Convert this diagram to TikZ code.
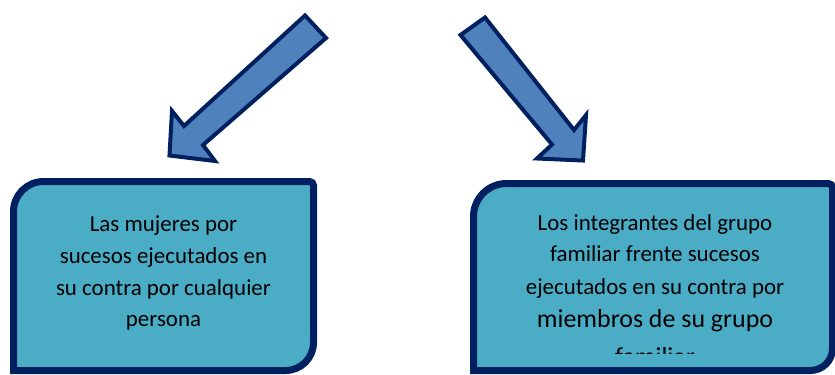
\documentclass[tikz,border=0pt]{standalone}
\usepackage{fontspec}
\setmainfont{Carlito}
\definecolor{navy}{HTML}{002060}
\definecolor{arrowblue}{HTML}{4F81BD}
\definecolor{boxaqua}{HTML}{4BACC6}
\tikzset{
  blockarrow/.style={fill=arrowblue, draw=navy, line width=4bp, line join=miter},
  boxshape/.style={fill=boxaqua, draw=navy, line width=7bp},
  boxtext/.style={align=center, inner sep=0pt, anchor=north, text=black,
    font=\fontsize{23}{31.5}\selectfont}
}
\begin{document}
\begin{tikzpicture}[x=1bp,y=-1bp]
\useasboundingbox (0,0) rectangle (835,374);
\clip (0,0) rectangle (835,374);
% block arrows
\draw[blockarrow] (305,15.5) -- (326,38) -- (203,145) -- (215,161) -- (169.5,155.5) -- (172,111) -- (184,126) -- cycle;
\draw[blockarrow] (460.5,35) -- (485,17.5) -- (574,130) -- (586,115) -- (583,160.5) -- (537,158.5) -- (552,144.5) -- cycle;
% left box
\draw[boxshape] (13.5,370.5) -- (13.5,211.5) .. controls (13.5,195) and (27,181.5) .. (43.5,181.5)
  -- (309.5,181.5) .. controls (311.7,181.5) and (313.5,183.3) .. (313.5,185.5)
  -- (313.5,342.5) .. controls (313.5,358) and (301,370.5) .. (285.5,370.5) -- cycle;
\node[boxtext] (lefttext) at (163.5,215.5) {Las mujeres por\\[0.5bp]sucesos ejecutados en\\[0.5bp]su contra por cualquier\\persona};
% right box
\draw[boxshape] (473.5,370.5) -- (473.5,216.5) .. controls (473.5,198.3) and (488.3,183.5) .. (506.5,183.5)
  -- (828.5,183.5) .. controls (830.7,183.5) and (832.5,185.3) .. (832.5,187.5)
  -- (832.5,348.5) .. controls (832.5,360.6) and (822.6,370.5) .. (810.5,370.5) -- cycle;
\begin{scope}
\clip (470,180) rectangle (835,353);
\node[boxtext] (righttext) at (655,214) {Los integrantes del grupo\\familiar frente sucesos\\[1.5bp]ejecutados en su contra por\\[2bp]{\fontsize{26}{31.5}\selectfont miembros de su grupo}\\[6bp]{\fontsize{26}{31.5}\selectfont familiar}};
\end{scope}
\end{tikzpicture}
\end{document}
